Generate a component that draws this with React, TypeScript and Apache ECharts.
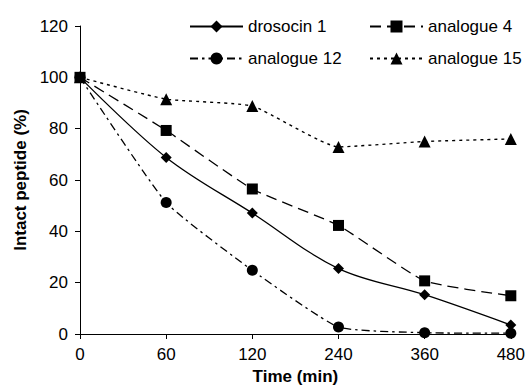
import React, { useEffect, useRef } from "react";
import * as echarts from "echarts";

const timeLabels = ["0", "60", "120", "240", "360", "480"];
const drosocin1 = [100, 68.8, 47.1, 25.5, 15.3, 3.5];
const analogue4 = [100, 79.3, 56.5, 42.3, 20.7, 14.9];
const analogue12 = [100, 51.2, 24.8, 2.7, 0.5, 0.3];
const analogue15 = [100, 91.5, 88.8, 72.9, 75.0, 76.0];

const FONT = "Liberation Sans";

export default function App() {
  const ref = useRef<HTMLDivElement>(null);
  useEffect(() => {
    const chart = echarts.init(ref.current!, null, { renderer: "svg" });
    const mkLegend = (name: string, left: number, top: number) => ({
      data: [name],
      left,
      top,
      itemWidth: 53,
      itemHeight: 15,
      padding: 0,
      textStyle: { fontFamily: FONT, fontSize: 17, color: "#000" },
    });
    const base = {
      type: "line",
      color: "#000",
      itemStyle: { color: "#000" },
      showSymbol: true,
    };
    chart.setOption({
      animation: false,
      backgroundColor: "#fff",
      grid: { left: 80, right: 16, top: 26, bottom: 53 },
      legend: [
        mkLegend("drosocin 1", 189, 18),
        mkLegend("analogue 4", 369, 18),
        mkLegend("analogue 12", 189, 50),
        mkLegend("analogue 15", 369, 50),
      ],
      xAxis: {
        type: "category",
        data: timeLabels,
        boundaryGap: false,
        name: "Time (min)",
        nameLocation: "middle",
        nameGap: 34,
        nameTextStyle: { fontFamily: FONT, fontSize: 17, fontWeight: "bold", color: "#000" },
        axisLine: { lineStyle: { color: "#000", width: 1 } },
        axisTick: { show: true, alignWithLabel: true, length: 5, lineStyle: { color: "#000" } },
        axisLabel: { fontFamily: FONT, fontSize: 17, color: "#000", margin: 12 },
        splitLine: { show: false },
      },
      yAxis: {
        type: "value",
        min: 0,
        max: 120,
        interval: 20,
        name: "Intact peptide (%)",
        nameLocation: "middle",
        nameGap: 48,
        nameTextStyle: { fontFamily: FONT, fontSize: 17, fontWeight: "bold", color: "#000" },
        axisLine: { show: true, lineStyle: { color: "#000", width: 1 } },
        axisTick: { show: true, length: 5, lineStyle: { color: "#000" } },
        axisLabel: { fontFamily: FONT, fontSize: 17, color: "#000", margin: 12 },
        splitLine: { show: false },
      },
      series: [
        {
          ...base,
          name: "drosocin 1",
          data: drosocin1,
          smooth: 0.35,
          symbol: "diamond",
          symbolSize: 11,
          lineStyle: { color: "#000", width: 1.3, type: "solid" },
          z: 4,
        },
        {
          ...base,
          name: "analogue 4",
          data: analogue4,
          smooth: 0.15,
          symbol: "rect",
          symbolSize: 11,
          lineStyle: { color: "#000", width: 1.3, type: [11, 6] },
          z: 3,
        },
        {
          ...base,
          name: "analogue 12",
          data: analogue12,
          smooth: 0.15,
          symbol: "circle",
          symbolSize: 11,
          lineStyle: { color: "#000", width: 1.3, type: [8, 4, 2.5, 4] },
          z: 2,
        },
        {
          ...base,
          name: "analogue 15",
          data: analogue15,
          smooth: 0.15,
          symbol: "triangle",
          symbolSize: 12,
          lineStyle: { color: "#000", width: 1.4, type: [3, 4] },
          z: 1,
        },
      ],
    });
    return () => chart.dispose();
  }, []);
  return <div ref={ref} style={{ width: 528, height: 390, position: "absolute", left: 0, top: 0 }} />;
}
